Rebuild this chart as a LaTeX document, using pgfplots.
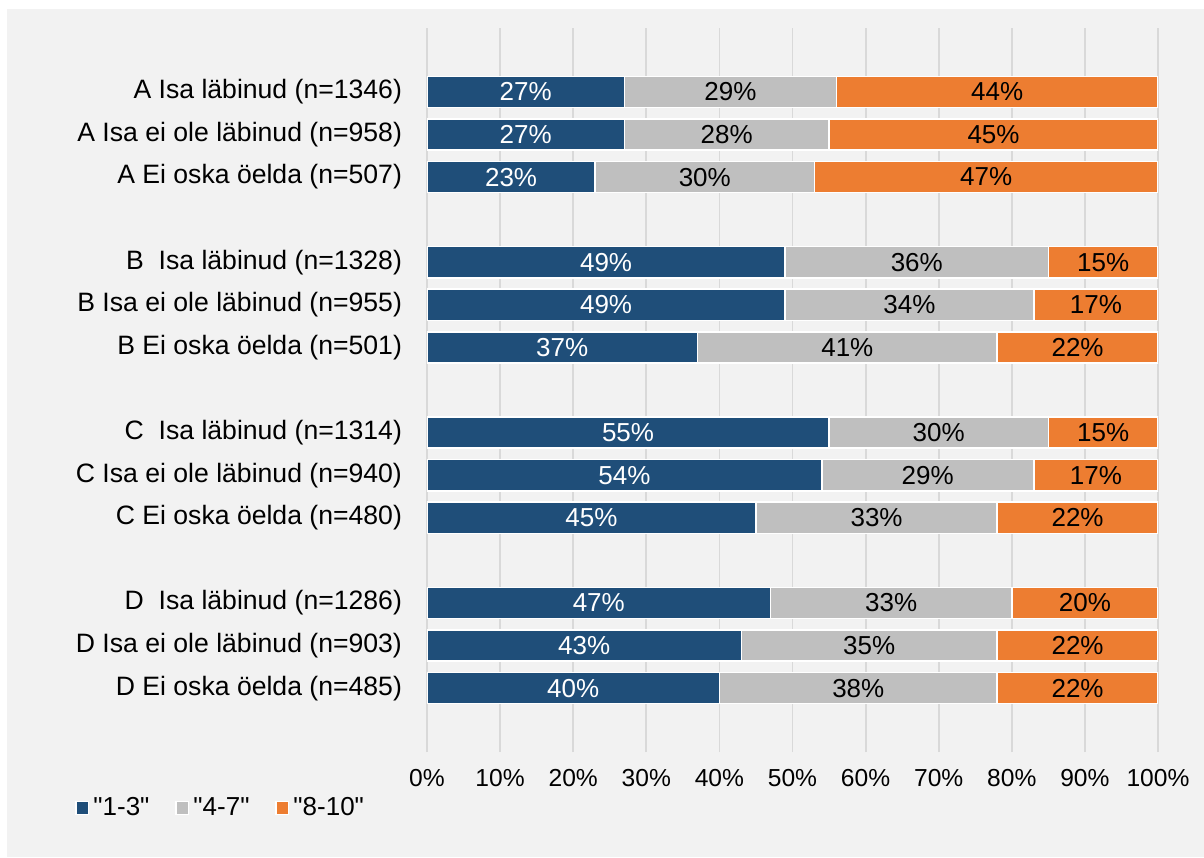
\documentclass[border=0pt]{standalone}
\usepackage{fontspec}
\setmainfont{Liberation Sans}[Ligatures=TeXOff]
\usepackage{pgfplots}
\usepackage{pgfplotstable}
\pgfplotsset{compat=1.18}

\definecolor{cblue}{HTML}{1F4E79}
\definecolor{cgray}{HTML}{BFBFBF}
\definecolor{corange}{HTML}{ED7D31}
\definecolor{panel}{HTML}{F2F2F2}
\definecolor{gridc}{HTML}{D9D9D9}

% y position, then the three shares in percent
\pgfplotstableread{
y  a  b  c
14 27 29 44
13 27 28 45
12 23 30 47
10 49 36 15
9  49 34 17
8  37 41 22
6  55 30 15
5  54 29 17
4  45 33 22
2  47 33 20
1  43 35 22
0  40 38 22
}\shares

\begin{document}
\begin{tikzpicture}
\useasboundingbox (0,0) rectangle (602pt,428.5pt);
\fill[panel] (3.5pt,0) rectangle (602pt,424pt);
\begin{axis}[
    at={(213.5pt,52.5pt)}, anchor=south west,
    scale only axis,
    width=365.5pt, height=362pt,
    font=\fontsize{13}{15.5}\selectfont,
    /pgf/number format/assume math mode=true,
    xbar stacked,
    bar width=0.73,
    xmin=0, xmax=100,
    ymin=-1.5, ymax=15.5,
    axis line style={draw=none},
    major tick length=0pt,
    xmajorgrids,
    grid style={gridc, line width=0.9pt},
    xtick={0,10,...,100},
    xticklabels={0\%,10\%,20\%,30\%,40\%,50\%,60\%,70\%,80\%,90\%,100\%},
    xticklabel style={yshift=-5pt, font=\fontsize{12.3}{14.5}\selectfont},
    ytick={0,1,2,4,5,6,8,9,10,12,13,14},
    yticklabels={
      D Ei oska öelda (n=485),
      D Isa ei ole läbinud (n=903),
      D~~Isa läbinud (n=1286),
      C Ei oska öelda (n=480),
      C Isa ei ole läbinud (n=940),
      C~~Isa läbinud (n=1314),
      B Ei oska öelda (n=501),
      B Isa ei ole läbinud (n=955),
      B~~Isa läbinud (n=1328),
      A Ei oska öelda (n=507),
      A Isa ei ole läbinud (n=958),
      A Isa läbinud (n=1346)},
    yticklabel style={anchor=east, xshift=-9pt, font=\fontsize{13.3}{15.5}\selectfont},
    point meta=explicit,
    nodes near coords={\pgfmathprintnumber{\pgfplotspointmeta}\%},
    every node near coord/.append style={anchor=center},
    legend style={at={(-0.4815,-0.0773)}, anchor=west, draw=none, fill=none,
      legend columns=-1, font=\fontsize{13}{15.5}\selectfont,
      /tikz/every even column/.append style={column sep=11pt},
      inner sep=0pt},
    legend image code/.code={\fill[#1, draw=white, line width=0.6pt] (0pt,-3.2pt) rectangle (6.4pt,3.2pt);},
]
\addplot[fill=cblue, draw=white, line width=0.8pt,
  every node near coord/.append style={text=white}]
  table[x=a, y=y, meta=a] {\shares};
\addplot[fill=cgray, draw=white, line width=0.8pt,
  every node near coord/.append style={text=black}]
  table[x=b, y=y, meta=b] {\shares};
\addplot[fill=corange, draw=white, line width=0.8pt,
  every node near coord/.append style={text=black}]
  table[x=c, y=y, meta=c] {\shares};
\legend{"1-3", "4-7", "8-10"}
\end{axis}
\end{tikzpicture}
\end{document}
